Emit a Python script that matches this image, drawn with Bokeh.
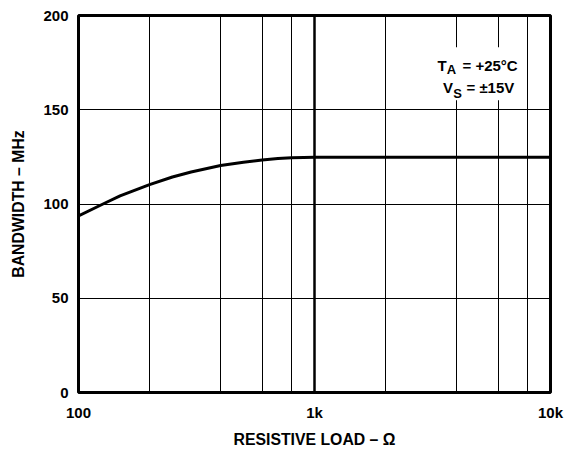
from bokeh.plotting import figure
from bokeh.models import FixedTicker, Grid, ColumnDataSource
from bokeh.core.properties import value
from bokeh.embed import file_html
from bokeh.resources import INLINE

# ---- data ----
load_ohm = [100, 127, 150, 200, 250, 300, 400, 500, 600, 700, 800, 900, 1000, 2000, 5000, 10000]
bandwidth_mhz = [93.7, 100.0, 104.3, 110.3, 114.3, 117.0, 120.4, 122.2, 123.3, 124.1, 124.5, 124.7,
                 124.8, 124.8, 124.8, 124.8]

x_ticks = [100, 1000, 10000]
x_tick_labels = ["100", "1k", "10k"]
y_ticks = [0, 50, 100, 150, 200]
x_minor_grid = [200, 400, 600, 800, 2000, 4000, 6000, 8000]
x_major_grid = [1000]

# annotation pieces (text, x, y, size)
note_text = ["T", "A", "= +25°C", "V", "S", "= ±15V"]
note_x = [3318, 3634, 4236, 3505, 3871, 4404]
note_y = [173.6, 171.2, 173.6, 161.6, 158.4, 161.6]
note_size = ["15px", "13px", "15px", "15px", "13px", "15px"]
note_box = dict(left=3232, right=7552, bottom=155.1, top=183.2)

FONT = "Liberation Sans"

p = figure(width=572, height=453, x_axis_type="log",
           x_range=(100, 10000), y_range=(0, 200),
           output_backend="svg", toolbar_location=None,
           min_border_left=78, min_border_right=22,
           min_border_top=15, min_border_bottom=61)

p.background_fill_color = "white"
p.border_fill_color = "white"
p.outline_line_color = "black"
p.outline_line_width = 3

# grids
p.xgrid.ticker = FixedTicker(ticks=x_minor_grid)
p.xgrid.grid_line_color = "black"
p.xgrid.grid_line_width = 1
p.ygrid.ticker = FixedTicker(ticks=y_ticks)
p.ygrid.grid_line_color = "black"
p.ygrid.grid_line_width = 1
p.add_layout(Grid(dimension=0, ticker=FixedTicker(ticks=x_major_grid),
                  grid_line_color="black", grid_line_width=2.5))

# axes
for ax in (p.xaxis[0], p.yaxis[0]):
    ax.axis_line_color = None
    ax.major_tick_line_color = None
    ax.minor_tick_line_color = None
    ax.major_label_text_font = FONT
    ax.major_label_text_font_style = "bold"
    ax.major_label_text_font_size = "15px"
    ax.major_label_text_color = "black"
    ax.axis_label_text_font = FONT
    ax.axis_label_text_font_style = "bold"
    ax.axis_label_text_font_size = "15.8px"
    ax.axis_label_text_color = "black"
    ax.major_tick_out = 0
    ax.major_tick_in = 0

p.xaxis.ticker = FixedTicker(ticks=x_ticks)
p.xaxis.major_label_overrides = {t: l for t, l in zip(x_ticks, x_tick_labels)}
p.xaxis.major_label_standoff = 11
p.xaxis.axis_label = "RESISTIVE LOAD – Ω"
p.xaxis.axis_label_standoff = 7

p.yaxis.ticker = FixedTicker(ticks=y_ticks)
p.yaxis.major_label_standoff = 10
p.yaxis.axis_label = "BANDWIDTH – MHz"
p.yaxis.axis_label_standoff = 13

# curve
src = ColumnDataSource(dict(x=load_ohm, y=bandwidth_mhz))
p.line("x", "y", source=src, line_color="black", line_width=3,
       line_join="round", line_cap="round")

# annotation box + text
p.quad(left=[note_box["left"]], right=[note_box["right"]],
       bottom=[note_box["bottom"]], top=[note_box["top"]],
       fill_color="white", line_color=None)
nsrc = ColumnDataSource(dict(x=note_x, y=note_y, t=note_text, s=note_size))
p.text("x", "y", text="t", source=nsrc, text_font=value(FONT),
       text_font_style="bold", text_font_size="s", text_color="black",
       text_align="left", text_baseline="alphabetic")

open("out.html", "w").write(file_html(p, INLINE))
